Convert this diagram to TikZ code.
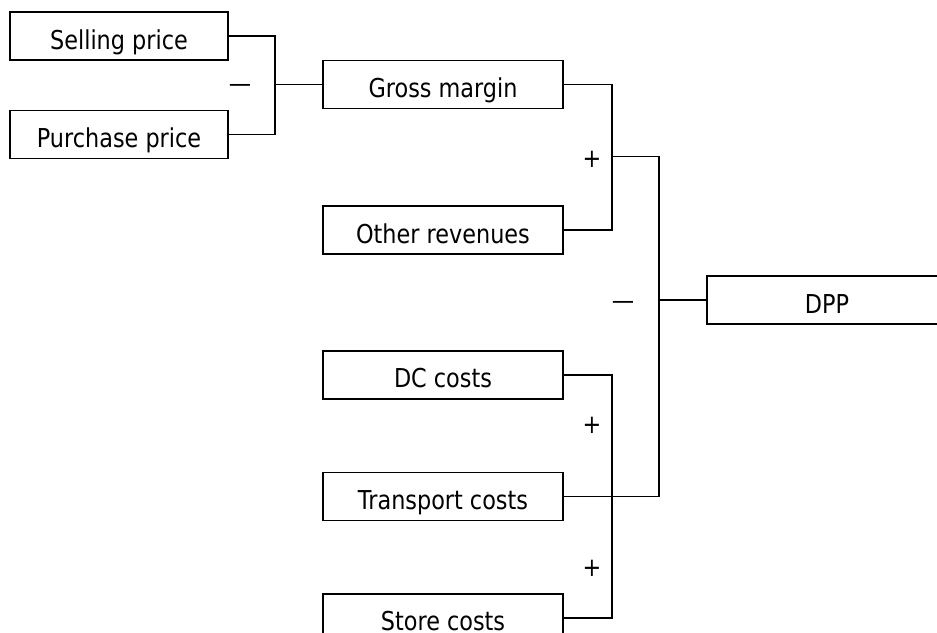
\documentclass[tikz,border=0pt]{standalone}
\usepackage{fontspec}
\setmainfont{DejaVu Sans}[FakeStretch=0.86]
\usetikzlibrary{positioning}
\tikzset{
  box/.style={draw, line width=1.6pt, minimum width=218pt, minimum height=48pt,
    inner xsep=0pt, inner ysep=0pt, text height=37pt, text depth=11pt},
  wbox/.style={box, minimum width=240pt},
  sign/.style={inner sep=0pt},
  minus/.style={sign, yshift=-5.5pt},
  link/.style={line width=1.6pt},
}
\begin{document}
\begin{tikzpicture}[x=1pt, y=-1pt, font=\fontsize{26}{31}\selectfont]
          \useasboundingbox (0,0) rectangle (937,632);
          \clip (0,0) rectangle (937,632);
          \node[box] (sell) at (119,36) {Selling price};
          \node[box, below=49pt of sell] (purch) {Purchase price};
          \node[wbox] (gross) at (443,84.5) {Gross margin};
          \node[wbox, below=96pt of gross] (other) {Other revenues};
          \node[wbox, below=95pt of other] (dcc) {DC costs};
          \node[wbox, below=72pt of dcc] (trans) {Transport costs};
          \node[wbox, below=72pt of trans] (store) {Store costs};
          \node[wbox] (dpp) at (827,300) {DPP};
          \coordinate (sp) at (275,84.5);
          \coordinate (gr) at (612,156.5);
          \coordinate (tot) at (659,300);
          \coordinate (cst) at (612,492.5);
          \draw[link] (sell.east) -| (sp) |- (purch.east);
          \draw[link] (sp) -- (gross.west);
          \draw[link] (gross.east) -| (gr) |- (other.east);
          \draw[link] (gr) -| (tot) |- (trans.east);
          \draw[link] (tot) -- (dpp.west);
          \draw[link] (dcc.east) -| (cst) |- (store.east);
          \node[minus] (m1) at (240,83) {—};
          \node[sign] (p1) at (592,159) {+};
          \node[minus] (m2) at (623,300) {—};
          \node[sign] (p2) at (592,425) {+};
          \node[sign] (p3) at (592,568) {+};
       \end{tikzpicture}
\end{document}
